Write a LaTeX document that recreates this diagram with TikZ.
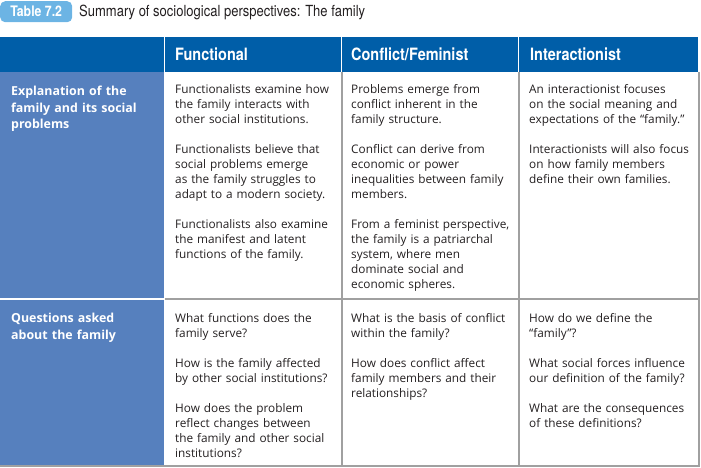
\documentclass[tikz,border=0pt]{standalone}
\usepackage{fontspec}
\setmainfont{Open Sans}
\newfontfamily\condfont[FakeStretch=0.85]{TeX Gyre Heros}
\usetikzlibrary{positioning}

\definecolor{hdrblue}{RGB}{0,94,168}
\definecolor{sideblue}{RGB}{86,128,190}
\definecolor{tagblue}{RGB}{108,180,228}
\definecolor{rulegray}{RGB}{160,160,160}
\definecolor{bodytext}{RGB}{35,31,32}

\tikzset{
	cell/.style={anchor=base west,inner sep=0pt,align=left,text width=168pt,text=bodytext,font=\fontsize{11.8}{15}\selectfont},
	side/.style={anchor=base west,inner sep=0pt,align=left,text width=150pt,text=white,font=\bfseries\fontsize{12.4}{16.6}\selectfont},
	head/.style={anchor=base west,inner sep=0pt,text=white,font=\condfont\bfseries\fontsize{17}{20}\selectfont},
	tag/.style={anchor=north west,fill=tagblue,rounded corners=5pt,minimum width=72pt,minimum height=21pt,inner sep=0pt,text=white,font=\condfont\bfseries\fontsize{14.5}{16}\selectfont},
	ttl/.style={anchor=base west,inner sep=0pt,text=bodytext,font=\condfont\fontsize{15.3}{17}\selectfont},
	rule/.style={draw=rulegray,line width=2pt},
}
\newcommand{\gap}{\\[15pt]}

\begin{document}
\begin{tikzpicture}[x=1pt,y=-1pt]
	\useasboundingbox (0,0) rectangle (701,467);
	% title
	\node[tag] (tab) at (0,1) {Table 7.2};
	\node[ttl] (ttl) at (79,16.5) {Summary of sociological perspectives: The family};
	% header band and side column
	\foreach \a/\b in {0/164,165/341,342/518,519/698}
		\fill[hdrblue] (\a,37) rectangle (\b,72);
	\fill[sideblue] (0,72) rectangle (164,298);
	\fill[sideblue] (0,300) rectangle (164,465);
	% rules
	\draw[rule] (165,299) -- (700,299);
	\draw[rule] (0,466) -- (700,466);
	\foreach \x in {341.5,518.5,699}
		\draw[rule] (\x,72) -- (\x,467);
	% column heads
	\node[head] (hfun) at (175,60) {Functional};
	\node[head] (hcon) at (351,60) {Conflict/Feminist};
	\node[head] (hint) at (530,60) {Interactionist};
	% row heads
	\node[side] (sexp) at (11,95.5) {Explanation of the\\family and its social\\problems};
	\node[side] (sque) at (11,322.5) {Questions asked\\about the family};
	% first row
	\node[cell] (fexp) at (175,93.5) {Functionalists examine how\\the family interacts with\\other social institutions.\gap
		Functionalists believe that\\social problems emerge\\as the family struggles to\\adapt to a modern society.\gap
		Functionalists also examine\\the manifest and latent\\functions of the family.};
	\node[cell] (cexp) at (351,93.5) {Problems emerge from\\conflict inherent in the\\family structure.\gap
		Conflict can derive from\\economic or power\\inequalities between family\\members.\gap
		From a feminist perspective,\\the family is a patriarchal\\system, where men\\dominate social and\\economic spheres.};
	\node[cell] (iexp) at (529,93.5) {An interactionist focuses\\on the social meaning and\\expectations of the “family.”\gap
		Interactionists will also focus\\on how family members\\define their own families.};
	% second row
	\node[cell] (fque) at (175,322) {What functions does the\\family serve?\gap
		How is the family affected\\by other social institutions?\gap
		How does the problem\\reflect changes between\\the family and other social\\institutions?};
	\node[cell] (cque) at (351,322) {What is the basis of conflict\\within the family?\gap
		How does conflict affect\\family members and their\\relationships?};
	\node[cell] (ique) at (529,322) {How do we define the\\“family”?\gap
		What social forces influence\\our definition of the family?\gap
		What are the consequences\\of these definitions?};
\end{tikzpicture}
\end{document}
